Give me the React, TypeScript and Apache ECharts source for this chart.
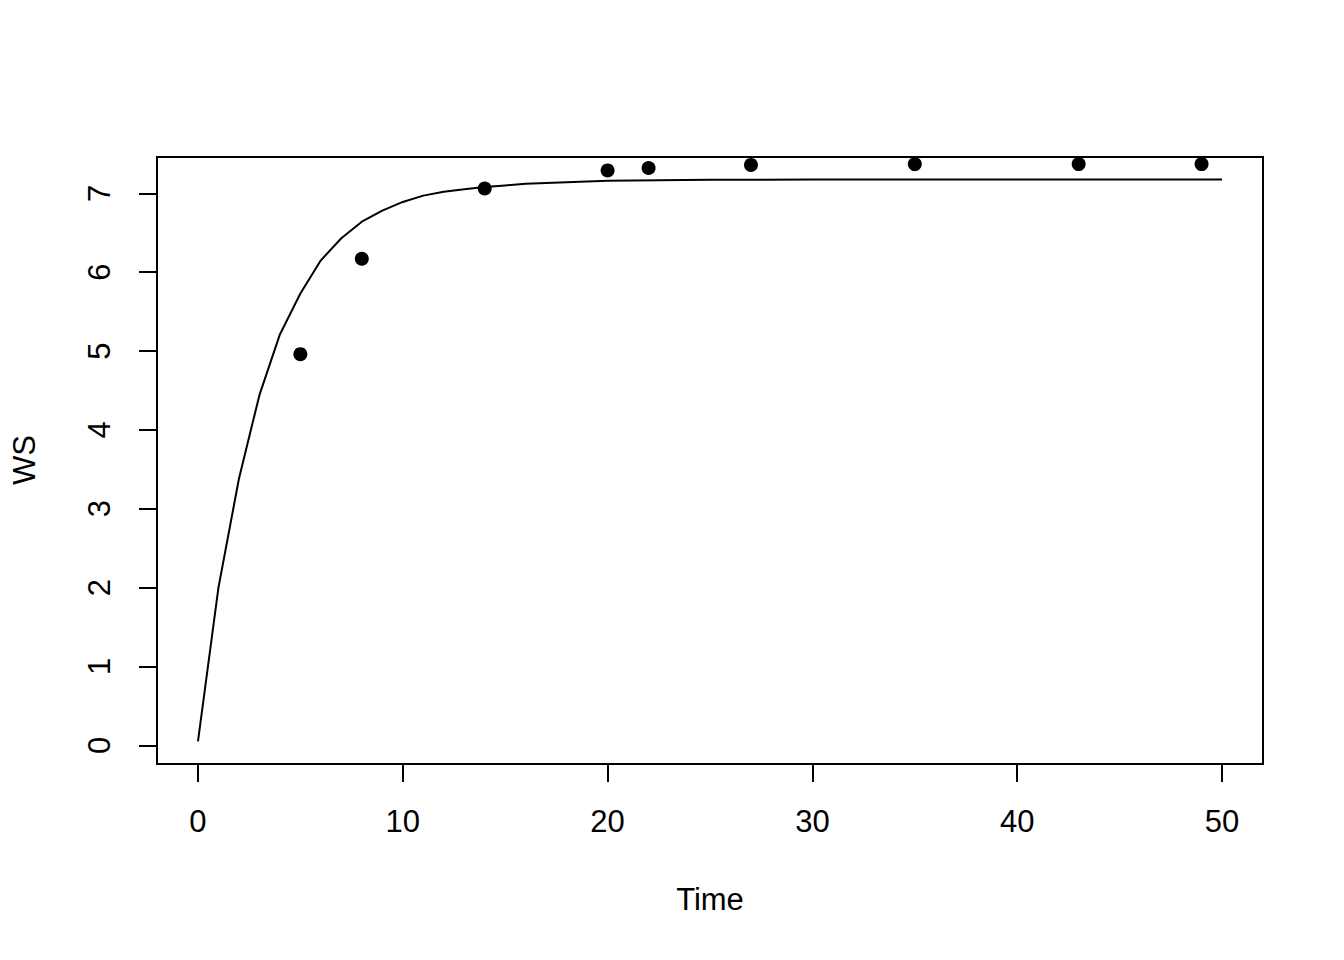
import React, { useEffect, useRef } from "react";
import * as echarts from "echarts";

const xTicks = [0, 10, 20, 30, 40, 50];
const yTicks = [0, 1, 2, 3, 4, 5, 6, 7];

const obsTime = [5, 8, 14, 20, 22, 27, 35, 43, 49];
const obsWS = [4.96, 6.17, 7.06, 7.29, 7.32, 7.36, 7.37, 7.37, 7.37];

const fitTime = [0, 1, 2, 3, 4, 5, 6, 7, 8, 9, 10, 11, 12, 13, 14, 15, 16, 17, 18, 19, 20, 25, 30, 35, 40, 45, 50];
const fitWS = [0.05, 2.0, 3.38, 4.44, 5.21, 5.73, 6.15, 6.43, 6.64, 6.78, 6.89, 6.97, 7.02, 7.05, 7.08, 7.1, 7.12, 7.13, 7.14, 7.15, 7.16, 7.17, 7.175, 7.175, 7.175, 7.175, 7.175];

const FONT = '"Liberation Sans", Arial, Helvetica, sans-serif';
const FS = 31;

export default function App() {
  const ref = useRef<HTMLDivElement>(null);
  useEffect(() => {
    document.body.style.margin = "0";
    const chart = echarts.init(ref.current!, null, { renderer: "svg" });
    chart.setOption({
      animation: false,
      backgroundColor: "#ffffff",
      grid: {
        left: 157,
        top: 157,
        width: 1106,
        height: 607,
        show: true,
        borderColor: "#000000",
        borderWidth: 2,
        backgroundColor: "transparent",
      },
      xAxis: {
        type: "value",
        min: -2,
        max: 52,
        position: "bottom",
        axisLine: { show: false, onZero: false },
        splitLine: { show: false },
        axisTick: {
          show: true,
          inside: false,
          length: 18,
          customValues: xTicks,
          lineStyle: { color: "#000000", width: 2 },
        },
        axisLabel: {
          customValues: xTicks,
          fontSize: FS,
          fontFamily: FONT,
          color: "#000000",
          margin: 42,
        },
      },
      yAxis: {
        type: "value",
        min: -0.237,
        max: 7.46,
        position: "left",
        axisLine: { show: false, onZero: false },
        splitLine: { show: false },
        axisTick: {
          show: true,
          inside: false,
          length: 18,
          customValues: yTicks,
          lineStyle: { color: "#000000", width: 2 },
        },
        axisLabel: {
          customValues: yTicks,
          fontSize: FS,
          fontFamily: FONT,
          color: "#000000",
          rotate: 90,
          margin: 42,
        },
      },
      series: [
        {
          type: "line",
          data: fitTime.map((t, i) => [t, fitWS[i]]),
          showSymbol: false,
          symbol: "none",
          lineStyle: { color: "#000000", width: 2 },
          z: 2,
        },
        {
          type: "scatter",
          data: obsTime.map((t, i) => [t, obsWS[i]]),
          symbol: "circle",
          symbolSize: 14,
          itemStyle: { color: "#000000", opacity: 1 },
          z: 3,
        },
      ],
      graphic: [
        {
          type: "text",
          x: 710,
          y: 899,
          style: {
            text: "Time",
            fontSize: FS,
            fontFamily: FONT,
            fill: "#000000",
            align: "center",
            verticalAlign: "middle",
            textAlign: "center",
            textVerticalAlign: "middle",
          },
        },
        {
          type: "text",
          x: 24,
          y: 460,
          rotation: Math.PI / 2,
          style: {
            text: "WS",
            fontSize: FS,
            fontFamily: FONT,
            fill: "#000000",
            align: "center",
            verticalAlign: "middle",
            textAlign: "center",
            textVerticalAlign: "middle",
          },
        },
      ],
    });
    return () => chart.dispose();
  }, []);
  return <div ref={ref} style={{ width: 1344, height: 960, background: "#ffffff" }} />;
}
